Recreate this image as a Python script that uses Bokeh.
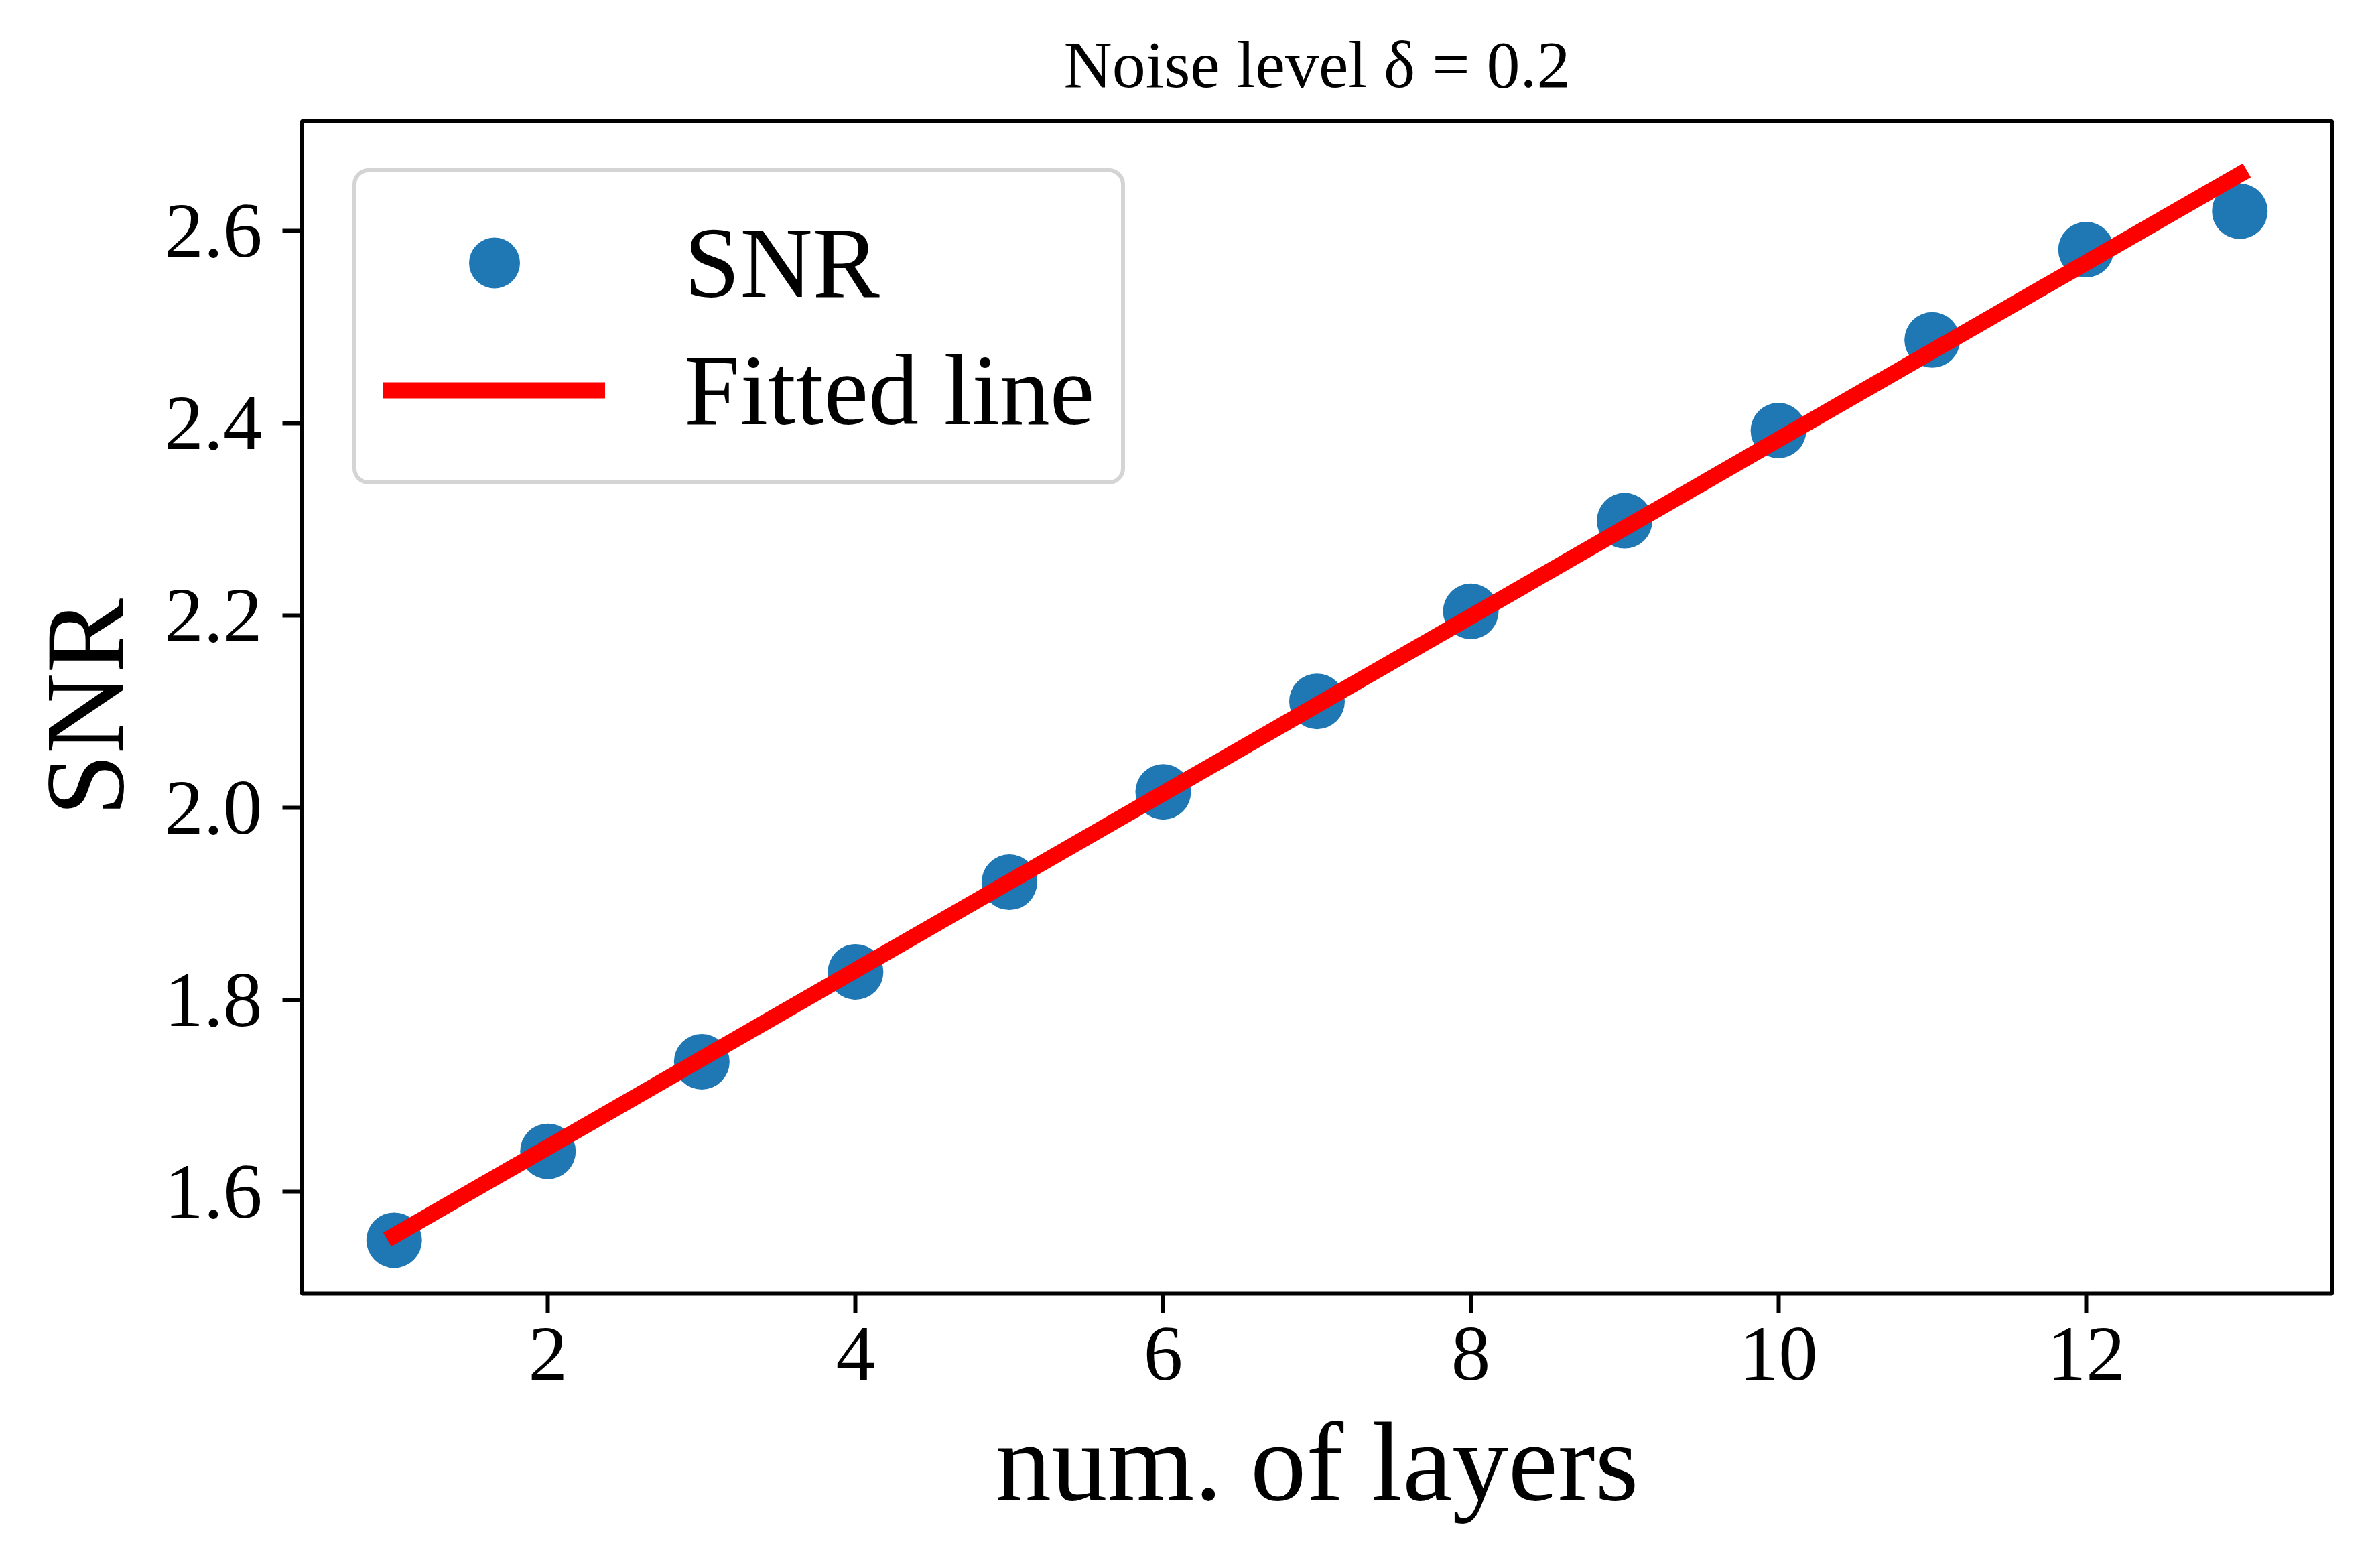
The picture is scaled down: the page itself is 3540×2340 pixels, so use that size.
import numpy as np
from bokeh.plotting import figure
from bokeh.models import (Range1d, FixedTicker, PrintfTickFormatter, Legend,
                          LegendItem)
from bokeh.embed import file_html
from bokeh.resources import INLINE

# ---- data ----
layers = [1, 2, 3, 4, 5, 6, 7, 8, 9, 10, 11, 12, 13]
snr = [1.5498, 1.6424, 1.7356, 1.8291, 1.9224, 2.0164, 2.1106,
       2.2043, 2.2986, 2.3924, 2.4867, 2.5806, 2.6206]
x_ticks = [2, 4, 6, 8, 10, 12]
y_ticks = [1.6, 1.8, 2.0, 2.2, 2.4, 2.6]
title_text = "Noise level δ = 0.2"
x_label = "num. of layers"
y_label = "SNR"
series_label = "SNR"
fit_label = "Fitted line"

# least-squares fitted line through the points
slope, intercept = np.polyfit(layers, snr, 1)
fit_x = [layers[0], layers[-1]]
fit_y = [intercept + slope * xv for xv in fit_x]

# matplotlib-like 5% margins
x_lo, x_hi = min(layers), max(layers)
x_pad = 0.05 * (x_hi - x_lo)
y_lo = min(min(snr), min(fit_y))
y_hi = max(max(snr), max(fit_y))
y_pad = 0.05 * (y_hi - y_lo)

SERIF = "Liberation Serif"

p = figure(width=3532, height=2332, output_backend="svg", toolbar_location=None,
           x_range=Range1d(x_lo - x_pad, x_hi + x_pad),
           y_range=Range1d(y_lo - y_pad, y_hi + y_pad),
           min_border_left=450, min_border_right=52,
           min_border_top=180, min_border_bottom=402)

p.background_fill_color = "white"
p.border_fill_color = "white"
p.outline_line_color = "black"
p.outline_line_width = 6
p.grid.visible = False

p.title.text = title_text
p.title.text_font = SERIF
p.title.text_font_size = "100px"
p.title.text_font_style = "normal"
p.title.text_color = "black"
p.title.align = "center"
p.title.standoff = 57

sc = p.scatter(layers, snr, size=83, fill_color="#1f77b4", line_color=None)
ln = p.line(fit_x, fit_y, line_width=24, line_color="#ff0000", line_cap="square")

for ax in (p.xaxis, p.yaxis):
    ax.axis_line_color = None
    ax.major_tick_line_color = "black"
    ax.major_tick_line_width = 6
    ax.major_tick_out = 29
    ax.major_tick_in = 0
    ax.minor_tick_line_color = None
    ax.major_label_text_font = SERIF
    ax.major_label_text_font_size = "117px"
    ax.major_label_text_color = "black"
    ax.axis_label_text_font = SERIF
    ax.axis_label_text_font_size = "167px"
    ax.axis_label_text_font_style = "normal"
    ax.axis_label_text_color = "black"

p.xaxis.ticker = FixedTicker(ticks=x_ticks)
p.yaxis.ticker = FixedTicker(ticks=y_ticks)
p.yaxis.formatter = PrintfTickFormatter(format="%.1f")
p.xaxis.major_label_standoff = 22
p.yaxis.major_label_standoff = 30
p.xaxis.axis_label = x_label
p.yaxis.axis_label = y_label
p.xaxis.axis_label_standoff = 27
p.yaxis.axis_label_standoff = 23

legend = Legend(items=[LegendItem(label=series_label, renderers=[sc]),
                       LegendItem(label=fit_label, renderers=[ln])],
                location=(76, 1207), glyph_width=331, glyph_height=190,
                spacing=0, padding=40, label_standoff=118, margin=0,
                label_text_font=SERIF, label_text_font_size="150px",
                label_text_color="black",
                border_line_color="#d4d4d4", border_line_width=6,
                border_line_alpha=1.0,
                background_fill_color="white", background_fill_alpha=0.8)
if "border_radius" in Legend.properties():
    legend.border_radius = 24
p.add_layout(legend)

open("out.html", "w").write(file_html(p, INLINE))
